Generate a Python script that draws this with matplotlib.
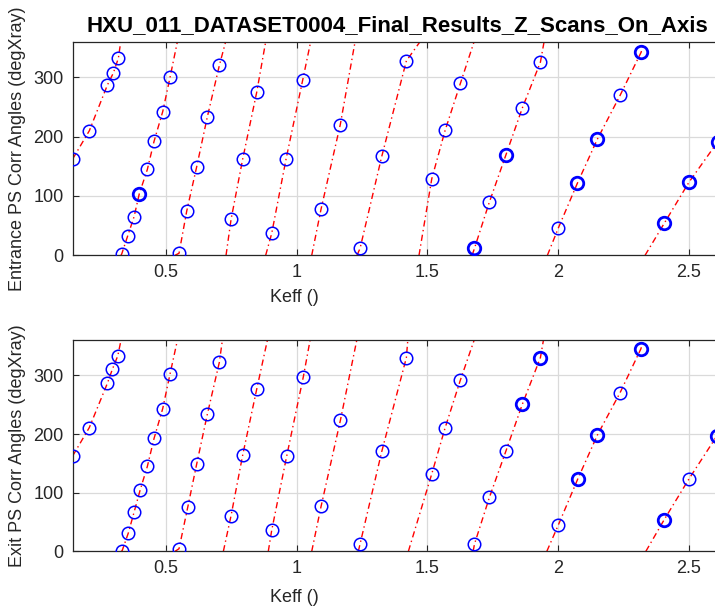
import numpy as np
import matplotlib
matplotlib.use("Agg")
import matplotlib.pyplot as plt

plt.rcParams['font.family'] = ['Liberation Sans', 'DejaVu Sans']

title = "HXU_011_DATASET0004_Final_Results_Z_Scans_On_Axis"
xlabel = "Keff ()"
ylabels = ["Entrance PS Corr Angles (degXray)", "Exit PS Corr Angles (degXray)"]
xticks = [0.5, 1.0, 1.5, 2.0, 2.5]
xticklabels = ["0.5", "1", "1.5", "2", "2.5"]
yticks = [0, 100, 200, 300]
xlim = (0.1445, 2.626)
ylim = (0, 360)

# ---------------- Entrance (top) ----------------
ent_pts_x = [
    [0.1445, 0.208, 0.277, 0.300, 0.319],
    [0.3318, 0.3547, 0.3788, 0.3991, 0.4297, 0.4553, 0.4885, 0.5164],
    [0.5508, 0.5803, 0.6185, 0.659, 0.7049],
    [0.7496, 0.7943, 0.8479],
    [0.905, 0.960, 1.0237],
    [1.0937, 1.167],
    [1.2427, 1.3257, 1.4197],
    [1.5168, 1.5677, 1.6262],
    [1.680, 1.737, 1.800, 1.863, 1.932],
    [2.0008, 2.0734, 2.150, 2.2367, 2.3169],
    [2.4048, 2.500, 2.610],
]
ent_pts_y = [
    [162.5, 209.9, 286.9, 307.5, 332.2],
    [2.2, 32.8, 64.7, 103.9, 144.6, 192.0, 242.2, 299.8],
    [3.4, 74.7, 149.6, 233.3, 320.0],
    [60.3, 162.5, 275.2],
    [36.8, 162.5, 295.8],
    [78.0, 220.0],
    [11.7, 166.8, 327.7],
    [129.0, 210.4, 289.8],
    [11.7, 89.8, 169.0, 248.4, 325.5],
    [46.3, 121.6, 196.0, 269.7, 342.2],
    [53.6, 123.3, 191.5],
]
ent_bold = [
    [0, 0, 0, 0, 0],
    [0, 0, 0, 1, 0, 0, 0, 0],
    [0, 0, 0, 0, 0],
    [0, 0, 0],
    [0, 0, 0],
    [0, 0],
    [0, 0, 0],
    [0, 0, 0],
    [1, 0, 1, 0, 0],
    [0, 1, 1, 0, 1],
    [1, 1, 1],
]
# fit line: Keff where wrapped angle crosses 0 and 360 (None = outside)
ent_line_x0 = [None, 0.329, 0.5356, 0.7305, 0.882, 1.058, 1.231, 1.468, 1.671, 1.9587, 2.332]
ent_line_x1 = [0.328, 0.5445, 0.729, 0.882, 1.054, 1.2236, 1.472, 1.6785, 1.946, 2.326, 2.75]

# ---------------- Exit (bottom) ----------------
exi_pts_x = [
    [0.1445, 0.208, 0.277, 0.296, 0.3165],
    [0.333, 0.357, 0.3788, 0.4018, 0.4297, 0.4553, 0.4885, 0.5164],
    [0.5508, 0.584, 0.6185, 0.659, 0.7049],
    [0.7496, 0.7943, 0.8479],
    [0.905, 0.9625, 1.026],
    [1.0937, 1.1674],
    [1.2427, 1.3257, 1.4197],
    [1.5168, 1.5677, 1.6262],
    [1.680, 1.737, 1.800, 1.863, 1.932],
    [2.0008, 2.075, 2.150, 2.2367, 2.3157],
    [2.4048, 2.500, 2.605],
]
exi_pts_y = [
    [162.9, 211.2, 286.7, 310.6, 333.2],
    [0.5, 31.2, 66.4, 103.9, 144.8, 192.5, 243.6, 302.6],
    [4.4, 75.0, 149.3, 233.9, 322.5],
    [60.7, 164.6, 277.0],
    [35.8, 162.9, 298.0],
    [76.7, 223.2],
    [12.4, 170.4, 330.5],
    [132.2, 210.6, 292.3],
    [12.4, 92.0, 170.9, 251.0, 330.5],
    [45.3, 123.7, 198.6, 270.9, 345.2],
    [53.8, 123.7, 195.9],
]
exi_bold = [
    [0, 0, 0, 0, 0],
    [0, 0, 0, 0, 0, 0, 0, 0],
    [0, 0, 0, 0, 0],
    [0, 0, 0],
    [0, 0, 0],
    [0, 0],
    [0, 0, 0],
    [0, 0, 0],
    [0, 0, 0, 1, 1],
    [0, 1, 1, 0, 1],
    [1, 0, 1],
]
exi_line_x0 = [None, 0.329, 0.5356, 0.7203, 0.892, 1.058, 1.236, 1.4274, 1.675, 1.9565, 2.335]
exi_line_x1 = [0.329, 0.5445, 0.7164, 0.8884, 1.0516, 1.230, 1.425, 1.6785, 1.9434, 2.326, 2.75]


def draw_panel(ax, px, py, bold, lx0, lx1, ylab, show_title, xlab_y):
    for i in range(len(px)):
        xs = list(px[i])
        ys = list(py[i])
        if lx0[i] is not None:
            xs = [lx0[i]] + xs
            ys = [ylim[0]] + ys
        xs = xs + [lx1[i]]
        ys = ys + [ylim[1]]
        ax.plot(xs, ys, color='red', lw=1.0, dashes=(4.5, 2.5, 1.0, 2.5), zorder=2)
        for xx, yy, b in zip(px[i], py[i], bold[i]):
            ax.plot([xx], [yy], linestyle='none', marker='o', markersize=9,
                    markerfacecolor='none', markeredgecolor='#0000ff',
                    markeredgewidth=2.0 if b else 1.1, zorder=3)
    ax.set_xlim(*xlim)
    ax.set_ylim(*ylim)
    ax.set_xticks(xticks)
    ax.set_xticklabels(xticklabels)
    ax.set_yticks(yticks)
    ax.grid(True, color='#dadada', lw=0.9)
    ax.set_axisbelow(True)
    ax.tick_params(direction='in', top=True, right=True, length=4,
                   labelsize=13, colors='#262626', width=0.8)
    ax.tick_params(axis='x', pad=6)
    ax.tick_params(axis='y', pad=6.5)
    for s in ax.spines.values():
        s.set_color('#262626')
        s.set_linewidth(0.9)
    ax.set_xlabel(xlabel, fontsize=13, color='#262626')
    ax.xaxis.set_label_coords(0.342, xlab_y)
    ax.set_ylabel(ylab, fontsize=13, color='#262626')
    ax.yaxis.set_label_coords(-0.072, 0.5)
    if show_title:
        ax.set_title(title, fontsize=16, fontweight='bold', color='black', pad=7.5)


fig = plt.figure(figsize=(7.15, 6.11), dpi=100)
ax1 = fig.add_axes([0.1017, 0.5822, 0.9081, 0.3496])
ax2 = fig.add_axes([0.1017, 0.0977, 0.9081, 0.3453])
draw_panel(ax1, ent_pts_x, ent_pts_y, ent_bold, ent_line_x0, ent_line_x1, ylabels[0], True, -0.16)
draw_panel(ax2, exi_pts_x, exi_pts_y, exi_bold, exi_line_x0, exi_line_x1, ylabels[1], False, -0.18)
fig.savefig("out.png", dpi=100)
